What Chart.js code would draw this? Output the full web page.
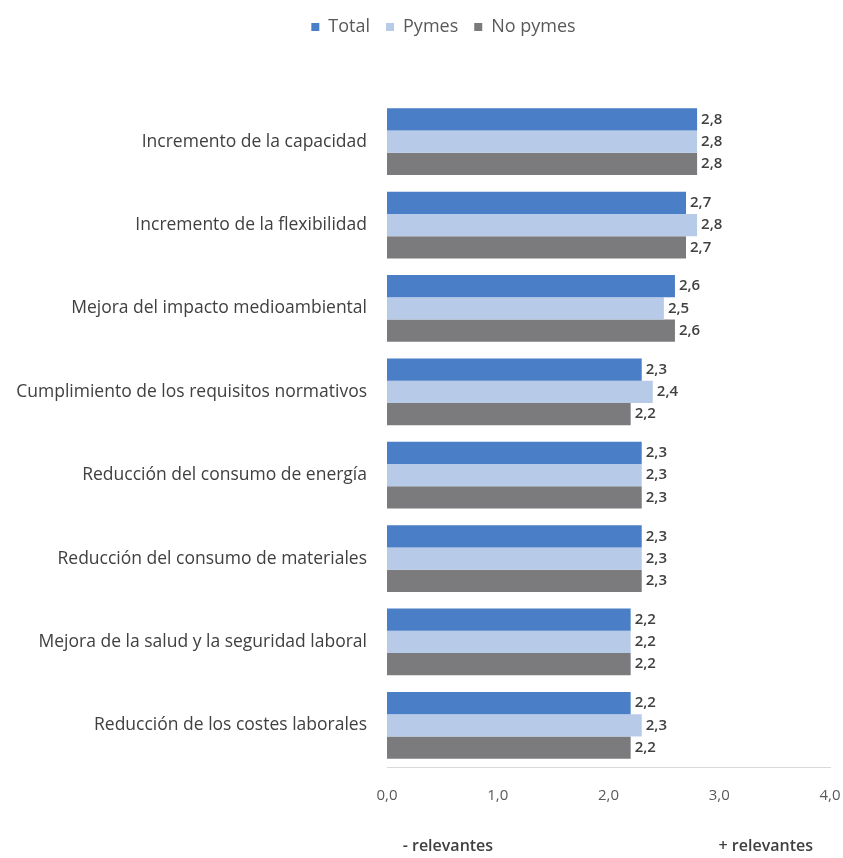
<!DOCTYPE html>
<html lang="es">
<head>
<meta charset="utf-8">
<title>Motivos de la inversión</title>
<script src="https://cdn.jsdelivr.net/npm/chart.js@4/dist/chart.umd.min.js"></script>
<style>
    body { margin: 0; background: #ffffff; }
    #grafico { display: block; }
</style>
</head>
<body>
<canvas id="grafico" width="843" height="858"></canvas>
<script>
// Categorías (eje vertical) y valores medios por grupo de empresas
const categorias = [
    'Incremento de la capacidad',
    'Incremento de la flexibilidad',
    'Mejora del impacto medioambiental',
    'Cumplimiento de los requisitos normativos',
    'Reducción del consumo de energía',
    'Reducción del consumo de materiales',
    'Mejora de la salud y la seguridad laboral',
    'Reducción de los costes laborales'
];
const valoresTotal   = [2.8, 2.7, 2.6, 2.3, 2.3, 2.3, 2.2, 2.2];
const valoresPymes   = [2.8, 2.8, 2.5, 2.4, 2.3, 2.3, 2.2, 2.3];
const valoresNoPymes = [2.8, 2.7, 2.6, 2.2, 2.3, 2.3, 2.2, 2.2];
const ticksEje = [0, 1, 2, 3, 4];
const textosEje = ['- relevantes', '+ relevantes'];

const fuente = "'Open Sans', 'Liberation Sans', sans-serif";

function formatoComa(v, dec) {
    return v.toFixed(dec).replace('.', ',');
}

// Etiquetas con el valor al final de cada barra
const etiquetasValor = {
    id: 'etiquetasValor',
    afterDatasetsDraw(chart) {
        const ctx = chart.ctx;
        ctx.save();
        ctx.font = '600 15px ' + fuente;
        ctx.fillStyle = '#404040';
        ctx.textAlign = 'left';
        ctx.textBaseline = 'middle';
        chart.data.datasets.forEach((ds, i) => {
            chart.getDatasetMeta(i).data.forEach((bar, j) => {
                ctx.fillText(formatoComa(ds.data[j], 1), bar.x + 4, bar.y);
            });
        });
        ctx.restore();
    }
};

// Textos "- relevantes" / "+ relevantes" bajo el eje X
const textosInferiores = {
    id: 'textosInferiores',
    afterDraw(chart) {
        const ctx = chart.ctx;
        const x = chart.scales.x;
        ctx.save();
        ctx.font = '600 16px ' + fuente;
        ctx.fillStyle = '#404040';
        ctx.textAlign = 'center';
        ctx.textBaseline = 'middle';
        ctx.fillText(textosEje[0], x.getPixelForValue(0.55), 846);
        ctx.fillText(textosEje[1], x.getPixelForValue(3.42), 846);
        ctx.restore();
    }
};

// Leyenda: más espacio hasta el gráfico y un poco desplazada a la derecha
const ajusteLeyenda = {
    id: 'ajusteLeyenda',
    beforeInit(chart) {
        const leyenda = chart.legend;
        const fitOriginal = leyenda.fit;
        leyenda.fit = function () {
            fitOriginal.call(leyenda);
            this.height = 100;
        };
        const drawOriginal = leyenda.draw;
        leyenda.draw = function () {
            const ctx = chart.ctx;
            ctx.save();
            ctx.translate(22, 2);
            drawOriginal.call(leyenda);
            ctx.restore();
        };
    }
};

new Chart(document.getElementById('grafico').getContext('2d'), {
    type: 'bar',
    data: {
        labels: categorias,
        datasets: [
            { label: 'Total', data: valoresTotal, backgroundColor: '#4a7ec6' },
            { label: 'Pymes', data: valoresPymes, backgroundColor: '#b7cbe8' },
            { label: 'No pymes', data: valoresNoPymes, backgroundColor: '#7b7b7d' }
        ]
    },
    options: {
        indexAxis: 'y',
        responsive: false,
        animation: false,
        layout: { padding: { left: 0, right: 0, top: 0, bottom: 0 } },
        datasets: {
            bar: { categoryPercentage: 0.8, barPercentage: 1.0 }
        },
        plugins: {
            legend: {
                position: 'top',
                align: 'center',
                labels: {
                    boxWidth: 8,
                    boxHeight: 8,
                    padding: 16,
                    color: '#595959',
                    font: { family: fuente, size: 18 }
                }
            },
            tooltip: { enabled: false }
        },
        scales: {
            x: {
                min: 0,
                max: 4,
                afterFit(scale) {
                    scale.height = 91;
                    scale.paddingLeft = 0;
                    scale.paddingRight = 13;
                },
                afterBuildTicks(scale) {
                    scale.ticks = ticksEje.map(v => ({ value: v }));
                },
                ticks: {
                    padding: 20,
                    color: '#595959',
                    font: { family: fuente, size: 15 },
                    callback: v => formatoComa(v, 1)
                },
                grid: { display: false, drawTicks: false },
                border: { display: true, color: '#d9d9d9', width: 1 }
            },
            y: {
                afterFit(scale) { scale.width = 387; },
                ticks: {
                    padding: 20,
                    color: '#404040',
                    font: { family: fuente, size: 17.5 }
                },
                grid: { display: false, drawTicks: false },
                border: { display: false }
            }
        }
    },
    plugins: [etiquetasValor, textosInferiores, ajusteLeyenda]
});
</script>
</body>
</html>
